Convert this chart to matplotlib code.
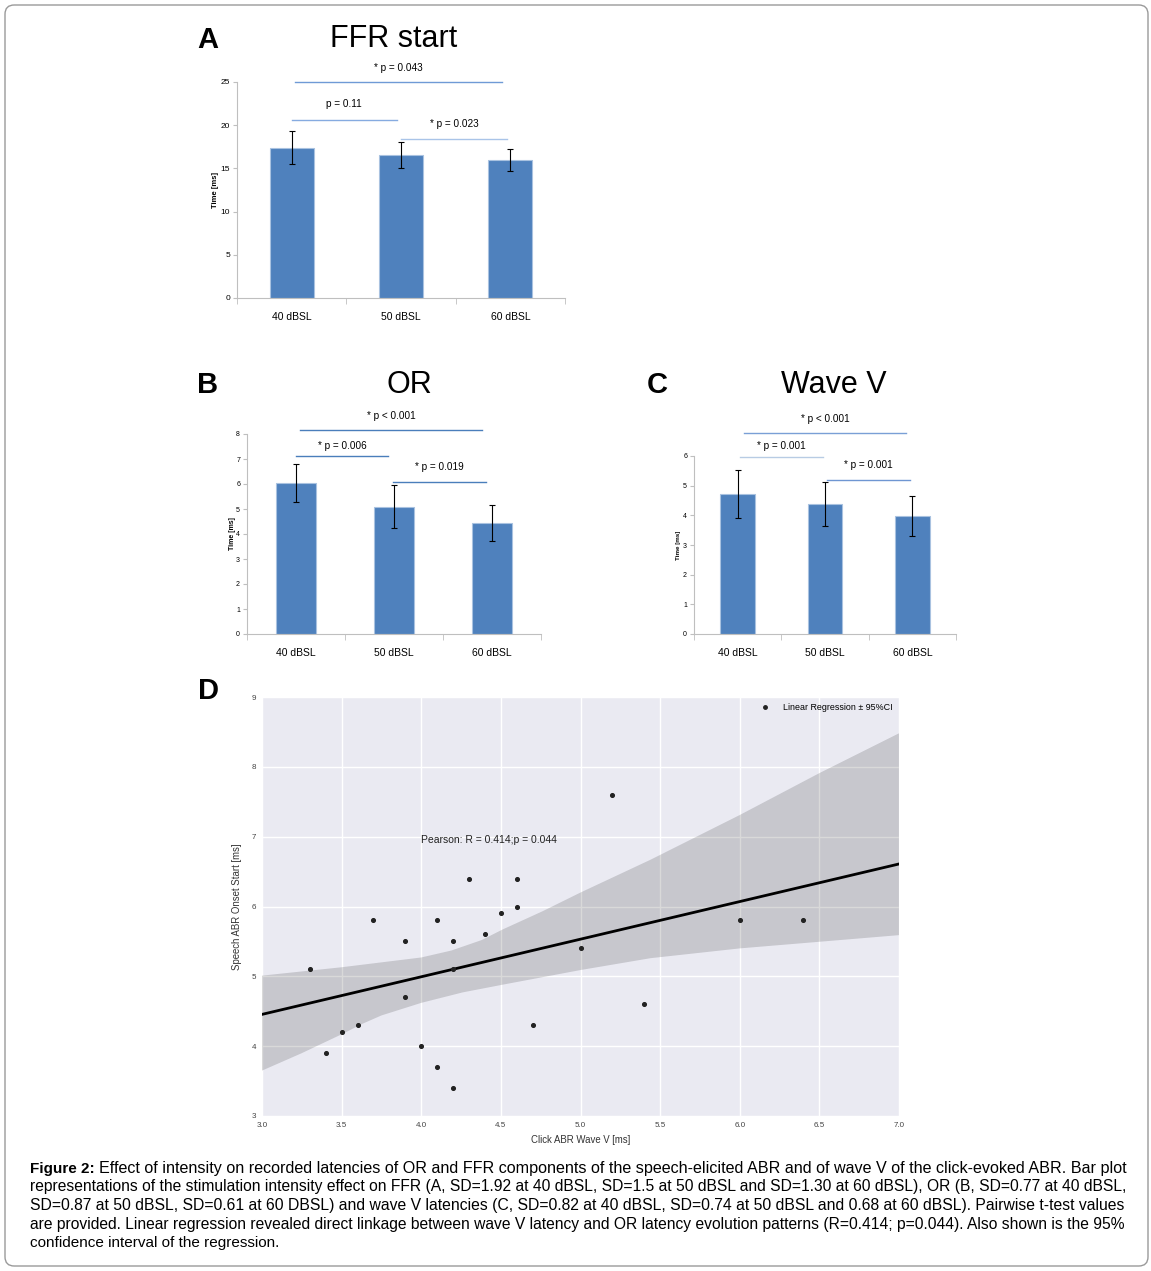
import matplotlib
matplotlib.use("Agg")
import matplotlib.pyplot as plt
from matplotlib.patches import FancyBboxPatch
from matplotlib.lines import Line2D
import numpy as np

plt.rcParams['font.family'] = ['Liberation Sans', 'DejaVu Sans']

# ---- data ----
levels = ["40 dBSL", "50 dBSL", "60 dBSL"]

ffr_mean = [17.4, 16.6, 16.0]
ffr_sd = [1.92, 1.5, 1.30]

or_mean = [6.04, 5.10, 4.44]
or_sd = [0.77, 0.87, 0.72]

wave_mean = [4.72, 4.38, 3.98]
wave_sd = [0.81, 0.74, 0.68]

# significance bars: (x start, x end, line height, label height, label)
ffr_sig = [(0.03, 1.92, 25.0, 26.6, "* p = 0.043"),
           (0.0, 0.96, 20.6, 22.45, "p = 0.11"),
           (1.0, 1.97, 18.4, 20.1, "* p = 0.023")]
or_sig = [(0.04, 1.90, 8.16, 8.72, "* p < 0.001"),
          (0.0, 0.94, 7.12, 7.52, "* p = 0.006"),
          (0.99, 1.94, 6.08, 6.68, "* p = 0.019")]
wave_sig = [(0.07, 1.93, 6.77, 7.25, "* p < 0.001"),
            (0.03, 0.98, 5.97, 6.34, "* p = 0.001"),
            (1.02, 1.97, 5.19, 5.70, "* p = 0.001")]

# scatter: click ABR wave V vs speech ABR onset
wave_v = [3.3, 3.4, 3.5, 3.6, 3.7, 3.9, 3.9, 4.0, 4.1, 4.1, 4.2, 4.2,
          4.2, 4.3, 4.4, 4.5, 4.6, 4.6, 4.7, 5.0, 5.2, 5.4, 6.0, 6.4]
onset = [5.1, 3.9, 4.2, 4.3, 5.8, 5.5, 4.7, 4.0, 5.8, 3.7, 5.5, 5.1,
         3.4, 6.4, 5.6, 5.9, 6.4, 6.0, 4.3, 5.4, 7.6, 4.6, 5.8, 5.8]

# 95% CI band edges
ci_up_x = [3.0, 3.5, 4.0, 4.19, 4.38, 4.51, 4.76, 5.0, 5.44, 6.0, 6.5, 7.0]
ci_up_y = [5.01, 5.13, 5.27, 5.37, 5.52, 5.67, 5.93, 6.20, 6.67, 7.31, 7.91, 8.48]
ci_lo_x = [3.0, 3.25, 3.5, 3.63, 3.75, 4.0, 4.26, 4.51, 5.0, 5.44, 6.0, 7.0]
ci_lo_y = [3.65, 3.90, 4.17, 4.32, 4.44, 4.62, 4.77, 4.88, 5.09, 5.26, 5.40, 5.59]

W, H = 1151, 1271
fig = plt.figure(figsize=(W / 100, H / 100), dpi=100)


def px_axes(x0, x1, ytop, ybot):
    return fig.add_axes([x0 / W, 1 - ybot / H, (x1 - x0) / W, (ybot - ytop) / H])


def bar_panel(ax, means, sds, sigs, ymax, ystep, sig_colors, tick_fs, ylab_x, ylab_fs):
    x = np.arange(len(levels))
    ax.bar(x, means, width=0.4, color="#4f81bd", edgecolor="#a9c2e0", linewidth=0.8, zorder=2)
    ax.errorbar(x, means, yerr=sds, fmt="none", ecolor="black", elinewidth=0.8,
                capsize=2, capthick=0.8, zorder=3)
    ax.set_xlim(-0.5, 2.5)
    ax.set_ylim(0, ymax)
    ax.set_yticks(np.arange(0, ymax + 0.01, ystep))
    ax.set_xticks(x)
    ax.set_xticklabels(levels, fontsize=7.5)
    ax.set_xticks([-0.5, 0.5, 1.5, 2.5], minor=True)
    ax.tick_params(axis="x", which="major", length=0, pad=10)
    ax.tick_params(axis="x", which="minor", length=4, color="#bfbfbf", direction="out")
    ax.tick_params(axis="y", length=3, color="#bfbfbf", labelsize=tick_fs, pad=2)
    for s in ["top", "right"]:
        ax.spines[s].set_visible(False)
    for s in ["left", "bottom"]:
        ax.spines[s].set_color("#bfbfbf")
        ax.spines[s].set_linewidth(0.8)
    ax.set_ylabel("Time [ms]", fontsize=ylab_fs, fontweight="bold")
    ax.yaxis.set_label_coords(ylab_x, 0.5)
    for (xa, xb, h, th, lab), c in zip(sigs, sig_colors):
        ax.plot([xa, xb], [h, h], color=c, lw=1.0, clip_on=False)
        ax.text((xa + xb) / 2, th, lab, ha="center", va="center", fontsize=7.2)


# ---- panel A ----
axA = px_axes(237, 565, 82, 298)
bar_panel(axA, ffr_mean, ffr_sd, ffr_sig, 25, 5, ["#6f9ad6", "#86abe0", "#a9c4e8"], 6, -0.055, 5.5)

# ---- panel B ----
axB = px_axes(247, 541, 434, 634)
bar_panel(axB, or_mean, or_sd, or_sig, 8, 1, ["#4a7ebb", "#4a7ebb", "#4a7ebb"], 5, -0.037, 5.0)

# ---- panel C ----
axC = px_axes(694, 956, 456, 634)
bar_panel(axC, wave_mean, wave_sd, wave_sig, 6, 1, ["#7a9fd6", "#b8cce4", "#6f96d2"], 5, -0.048, 4.5)

# ---- panel D ----
axD = px_axes(262, 899, 697, 1116)
axD.set_facecolor("#eaeaf2")
axD.grid(True, color="white", lw=1.0)
axD.set_axisbelow(True)
for s in axD.spines.values():
    s.set_visible(False)
axD.set_xlim(3.0, 7.0)
axD.set_ylim(3, 9)
axD.set_xticks(np.arange(3.0, 7.01, 0.5))
axD.set_xticklabels([f"{v:.1f}" for v in np.arange(3.0, 7.01, 0.5)])
axD.set_yticks(range(3, 10))
axD.tick_params(length=0, labelsize=5.8, labelcolor="#444444", pad=4)

slope, icpt = np.polyfit(wave_v, onset, 1)
xl = np.array([3.0, 7.0])
band_x = np.r_[ci_up_x, ci_lo_x[::-1]]
band_y = np.r_[ci_up_y, ci_lo_y[::-1]]
axD.fill(band_x, band_y, color="black", alpha=0.15, lw=0, zorder=2)
axD.plot(xl, slope * xl + icpt, color="black", lw=2, zorder=3)
axD.scatter(wave_v, onset, s=7, color="#222222", zorder=4)
axD.text(4.0, 6.95, "Pearson: R = 0.414;p = 0.044", fontsize=7.5, color="#222222",
         ha="left", va="center")
h = Line2D([], [], marker="o", ls="none", color="#222222", markersize=2.5)
axD.legend([h], ["Linear Regression \u00b1 95%CI"], loc="upper right", frameon=False,
           fontsize=6.4, handletextpad=1.0, borderaxespad=0.3)
axD.set_xlabel("Click ABR Wave V [ms]", fontsize=6.9, color="#333333")
axD.set_ylabel("Speech ABR Onset Start [ms]", fontsize=6.9, color="#333333")
axD.xaxis.set_label_coords(0.5, -0.046)
axD.yaxis.set_label_coords(-0.031, 0.5)

# ---- titles and panel letters ----
for lx, ly, letter in [(208, 40, "A"), (208, 385, "B"), (657, 385, "C"), (208, 691, "D")]:
    fig.text(lx / W, 1 - ly / H, letter, fontsize=21, fontweight="bold", ha="center", va="center")
for tx, ty, title in [(394, 39, "FFR start"), (409, 385, "OR"), (834, 385, "Wave V")]:
    fig.text(tx / W, 1 - ty / H, title, fontsize=22, ha="center", va="center")

# ---- caption: each line fitted to the column width ----
caption_bold = "Figure 2:"
caption = [
    "Effect of intensity on recorded latencies of OR and FFR components of the speech-elicited ABR and of wave V of the click-evoked ABR. Bar plot",
    "representations of the stimulation intensity effect on FFR (A, SD=1.92 at 40 dBSL, SD=1.5 at 50 dBSL and SD=1.30 at 60 dBSL), OR (B, SD=0.77 at 40 dBSL,",
    "SD=0.87 at 50 dBSL, SD=0.61 at 60 DBSL) and wave V latencies (C, SD=0.82 at 40 dBSL, SD=0.74 at 50 dBSL and 0.68 at 60 dBSL). Pairwise t-test values",
    "are provided. Linear regression revealed direct linkage between wave V latency and OR latency evolution patterns (R=0.414; p=0.044). Also shown is the 95%",
    "confidence interval of the regression.",
]
renderer = fig.canvas.get_renderer()
cx0, cx1 = 30, 1120
base_fs = 11.0
for i, line in enumerate(caption):
    y = 1 - (1173 + i * 18.5) / H
    xs = cx0
    if i == 0:
        tb = fig.text(cx0 / W, y, caption_bold, fontsize=base_fs, fontweight="bold",
                      ha="left", va="baseline")
        xs = cx0 + tb.get_window_extent(renderer).width + 4
    t = fig.text(xs / W, y, line, fontsize=base_fs, ha="left", va="baseline")
    if i < len(caption) - 1:
        wd = t.get_window_extent(renderer).width
        t.set_fontsize(base_fs * (cx1 - xs) / wd)

# ---- rounded border ----
border = FancyBboxPatch((5 / W, 5 / H), 1143 / W, 1261 / H, transform=fig.transFigure,
                        boxstyle="round,pad=0,rounding_size=0.008", mutation_aspect=W / H,
                        facecolor="none", edgecolor="#9a9a9a", lw=1.0)
fig.patches.append(border)

fig.savefig("out.png", dpi=100)
